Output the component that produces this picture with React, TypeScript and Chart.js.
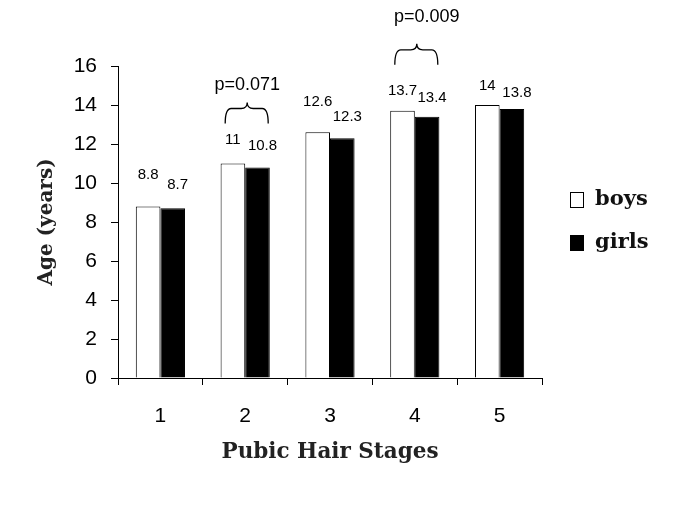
import React, { useEffect, useRef } from 'react';
import { Chart, registerables } from 'chart.js';

Chart.register(...registerables);

// ---- data ----
const stages = ['1', '2', '3', '4', '5'];
const boysAge = [8.8, 11, 12.6, 13.7, 14];
const girlsAge = [8.7, 10.8, 12.3, 13.4, 13.8];
const seriesNames = ['boys', 'girls'];
const yMin = 0;
const yMax = 16;
const yStep = 2;
const pStageIndex = [1, 3];
const pLabels = ['p=0.071', 'p=0.009'];

// ---- style (pixel offsets, not data) ----
const boysLabelLift = [32, 24, 30, 20, 19];
const girlsLabelLift = [23, 22, 21, 19, 16];
const braceLift = [40, 46];
const pTextLift = [17, 27];
const pTextShift = [2, 12];

const SANS = '"Liberation Sans", Arial, sans-serif';
const SERIF = '"DejaVu Serif", serif';

function drawBrace(ctx: CanvasRenderingContext2D, x1: number, x2: number, tipX: number, yTip: number, yH: number, yEnd: number) {
  const r = 6;
  ctx.beginPath();
  ctx.moveTo(x1, yEnd);
  ctx.quadraticCurveTo(x1, yH, x1 + r, yH);
  ctx.lineTo(tipX - r, yH);
  ctx.quadraticCurveTo(tipX, yH, tipX, yTip);
  ctx.quadraticCurveTo(tipX, yH, tipX + r, yH);
  ctx.lineTo(x2 - r, yH);
  ctx.quadraticCurveTo(x2, yH, x2, yEnd);
  ctx.stroke();
}

const annotatePlugin = {
  id: 'annotate',
  afterDatasetsDraw(chart: any) {
    const ctx: CanvasRenderingContext2D = chart.ctx;
    const metaB = chart.getDatasetMeta(0);
    const metaG = chart.getDatasetMeta(1);
    const xScale = chart.scales.x;
    ctx.save();
    ctx.fillStyle = '#000';
    ctx.font = `15px ${SANS}`;
    ctx.textAlign = 'center';
    ctx.textBaseline = 'middle';
    metaB.data.forEach((bar: any, i: number) => {
      ctx.fillText(String(boysAge[i]), bar.x, bar.y - boysLabelLift[i]);
    });
    metaG.data.forEach((bar: any, i: number) => {
      ctx.fillText(String(girlsAge[i]), bar.x + 5, bar.y - girlsLabelLift[i]);
    });
    // braces
    ctx.strokeStyle = '#000';
    ctx.lineWidth = 1.3;
    ctx.font = `18px ${SANS}`;
    pStageIndex.forEach((idx, k) => {
      const c = xScale.getPixelForValue(idx);
      const top = Math.min(metaB.data[idx].y, metaG.data[idx].y);
      const yEnd = top - braceLift[k];
      const yH = yEnd - 15;
      const yTip = yH - 6;
      drawBrace(ctx, c - 20, c + 23, c + 2, yTip, yH, yEnd);
      ctx.fillText(pLabels[k], c + pTextShift[k], yTip - pTextLift[k]);
    });
    ctx.restore();
  },
  afterDraw(chart: any) {
    const ctx: CanvasRenderingContext2D = chart.ctx;
    const area = chart.chartArea;
    const cy = (area.top + area.bottom) / 2;
    const ys = [cy - 22, cy + 21];
    const fills = ['#fff', '#000'];
    ctx.save();
    ctx.font = `bold 21px ${SERIF}`;
    ctx.textAlign = 'left';
    ctx.textBaseline = 'middle';
    seriesNames.forEach((name, i) => {
      const bx = area.right + 28;
      ctx.fillStyle = fills[i];
      ctx.fillRect(bx, ys[i] - 8, 14, 16);
      ctx.strokeStyle = '#000';
      ctx.lineWidth = 1;
      ctx.strokeRect(bx + 0.5, ys[i] - 7.5, 13, 15);
      ctx.fillStyle = '#111';
      ctx.fillText(name, area.right + 53, ys[i]);
    });
    ctx.restore();
  },
};

export default function App() {
  const ref = useRef<HTMLCanvasElement | null>(null);
  useEffect(() => {
    if (!ref.current) return;
    const chart = new Chart(ref.current, {
      type: 'bar',
      data: {
        labels: stages,
        datasets: [
          {
            label: seriesNames[0],
            data: boysAge,
            backgroundColor: '#ffffff',
            borderColor: '#000000',
            borderWidth: 1,
          },
          {
            label: seriesNames[1],
            data: girlsAge,
            backgroundColor: '#000000',
            borderColor: '#000000',
            borderWidth: 1,
          },
        ],
      },
      options: {
        responsive: true,
        maintainAspectRatio: false,
        animation: false,
        datasets: { bar: { categoryPercentage: 0.58, barPercentage: 1 } },
        layout: { padding: { top: 66, right: 143, bottom: 0, left: 0 } },
        plugins: { legend: { display: false }, tooltip: { enabled: false } },
        scales: {
          x: {
            grid: { display: true, drawOnChartArea: false, drawTicks: true, tickLength: 7, color: '#000', offset: true },
            border: { display: true, color: '#000', width: 1 },
            ticks: { color: '#000', font: { family: SANS, size: 21 }, padding: 19 },
            title: {
              display: true,
              text: 'Pubic Hair Stages',
              color: '#222',
              font: { family: SERIF, size: 21.5, weight: 'bold' },
              padding: { top: 0, bottom: 48 },
            },
            afterFit: (s: any) => { s.height = 135; },
          },
          y: {
            min: yMin,
            max: yMax,
            grid: { display: true, drawOnChartArea: false, drawTicks: true, tickLength: 7, color: '#000' },
            border: { display: true, color: '#000', width: 1 },
            ticks: { stepSize: yStep, color: '#000', font: { family: SANS, size: 21 }, padding: 14 },
            title: {
              display: true,
              text: 'Age (years)',
              color: '#222',
              font: { family: SERIF, size: 20, weight: 'bold' },
              padding: { top: 35, bottom: 0 },
            },
            afterFit: (s: any) => { s.width = 118; },
          },
        },
      },
      plugins: [annotatePlugin],
    });
    return () => chart.destroy();
  }, []);
  return (
    <div style={{ position: 'fixed', left: 0, top: 0, width: 685, height: 513, background: '#fff' }}>
      <canvas ref={ref} />
    </div>
  );
}
